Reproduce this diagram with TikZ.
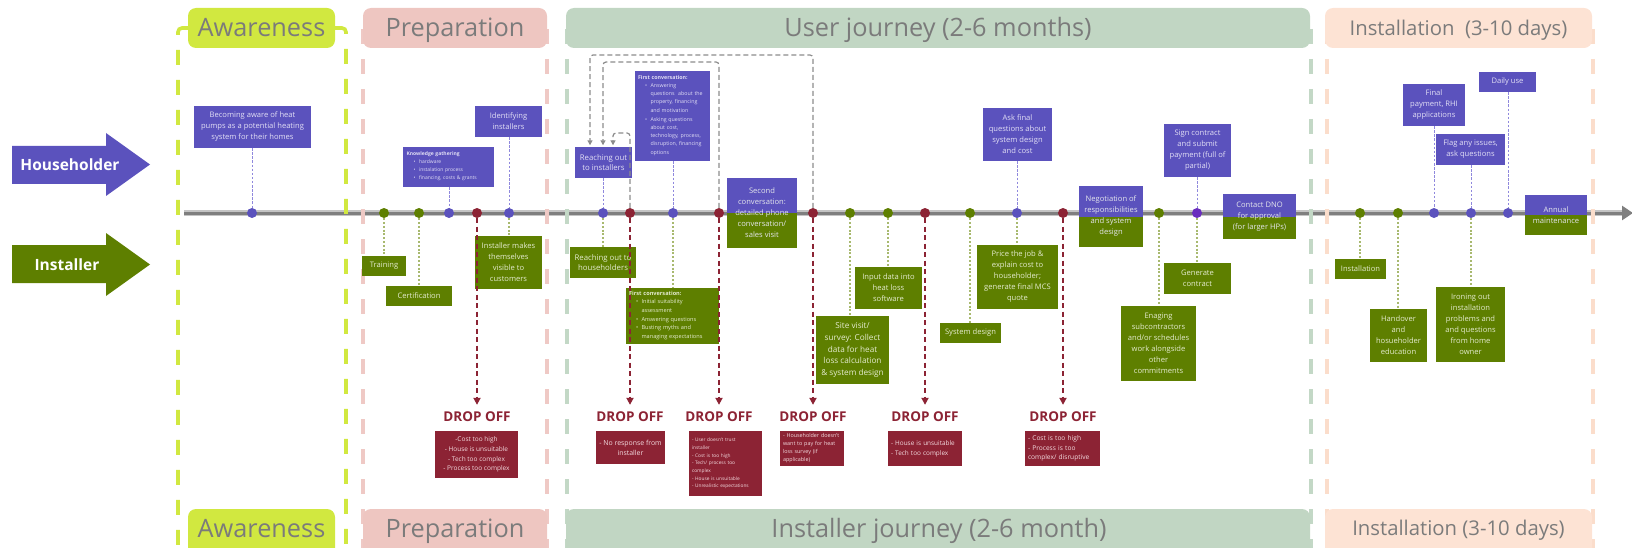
\documentclass[tikz,border=0pt]{standalone}
\usepackage{fontspec}
\setmainfont{Open Sans}
\usetikzlibrary{arrows.meta}
\pgfdeclarelayer{background}
\pgfdeclarelayer{foreground}
\pgfsetlayers{background,main,foreground}

% palette
\definecolor{hhc}{HTML}{5B52BD}
\definecolor{inc}{HTML}{5E7F00}
\definecolor{drc}{HTML}{8C2334}
\definecolor{vio}{HTML}{6A2DBE}
\definecolor{hhtxt}{HTML}{E2DFF5}
\definecolor{intxt}{HTML}{E4EBCF}
\definecolor{sptxt}{HTML}{E4E6EC}
\definecolor{drtxt}{HTML}{F2DADE}
\definecolor{hhline}{HTML}{8F88DD}
\definecolor{inline}{HTML}{A8B96F}
\definecolor{loopc}{HTML}{8C8C8C}
\definecolor{tl}{HTML}{7F7F7F}
\definecolor{tledge}{HTML}{C4C4C4}
\definecolor{awc}{HTML}{D1E840}
\definecolor{prc}{HTML}{EEC6C1}
\definecolor{ujc}{HTML}{C1D6C3}
\definecolor{insc}{HTML}{FDE3D4}
\definecolor{prl}{HTML}{EFC9C5}
\definecolor{ujl}{HTML}{C3D8C6}
\definecolor{insl}{HTML}{FBDDCB}
\definecolor{hdrc}{HTML}{7B7B7B}

\newcommand\fsz[2]{\fontsize{#1}{#2}\selectfont}
% bulleted item; the item's lines stay aligned after the bullet
\newcommand\bl[1]{\par\noindent\hspace*{7pt}\makebox[5.5pt][l]{•}\begin{tabular}[t]{@{}l@{}}#1\end{tabular}}

\tikzset{
  box/.style={inner sep=0pt, align=center, font=\fsz{7.6}{11}},
  hbox/.style={box, fill=hhc, text=hhtxt},
  ibox/.style={box, fill=inc, text=intxt},
  sbox/.style={box, fill=inc, text=sptxt,
    path picture={\fill[hhc] (path picture bounding box.north west) rectangle (path picture bounding box.east);}},
  dbox/.style={inner sep=0pt, fill=drc, text=drtxt, align=center, font=\fsz{6.5}{9.8}},
  lbox/.style={inner xsep=3pt, inner ysep=0pt, align=left},
  wh/.style 2 args={minimum width=#1, minimum height=#2},
  tdot/.style={circle, inner sep=0pt, minimum size=10pt, fill=#1},
  hline/.style={draw=hhline, line width=0.9pt, dash pattern=on 2.5pt off 1.6pt},
  iline/.style={draw=inline, line width=1.1pt, dash pattern=on 2pt off 1.8pt},
  dropline/.style={draw=drc, line width=1.8pt, dash pattern=on 5pt off 3.5pt,
    -{Triangle[length=7pt,width=7pt]}},
  loopline/.style={draw=loopc, line width=1.2pt, dash pattern=on 5pt off 3pt,
    rounded corners=3pt, -{Triangle[length=5pt,width=5pt]}, shorten >=1.5pt},
  droplbl/.style={inner sep=0pt, text=drc, font=\fsz{13.5}{15}\bfseries},
  phase/.style={line width=3.6pt, dash pattern=on 15pt off 15pt},
  hdrbox/.style={rounded corners=8pt, inner sep=0pt, minimum height=40pt},
  hdrtxt/.style={anchor=base, inner sep=0pt, text=hdrc, font=\fsz{25.3}{28}},
  lanetxt/.style={text=white, inner sep=0pt, font=\fsz{15.5}{18}\bfseries},
}

\begin{document}
\begin{tikzpicture}[x=1pt,y=-1pt]
\useasboundingbox (0,0) rectangle (1632,548);
\clip (0,0) rectangle (1632,548);

% ---------- phase headers (top)
\node[hdrbox, fill=awc, minimum width=147pt] (awTop) at (261.5,28) {};
\node[hdrtxt] (awTopT) at (261.5,37) {Awareness};
\node[hdrbox, fill=prc, minimum width=184pt] (prTop) at (455,28) {};
\node[hdrtxt] (prTopT) at (455,37) {Preparation};
\node[hdrbox, fill=ujc, minimum width=744pt] (ujTop) at (938,28) {};
\node[hdrtxt] (ujTopT) at (938,37) {User journey (2-6 months)};
\node[hdrbox, fill=insc, minimum width=267pt] (inTop) at (1458.5,28) {};
\node[hdrtxt, font=\fsz{20.3}{24}] (inTopT) at (1458.5,35.3) {Installation\ \ (3-10 days)};

% ---------- phase headers (bottom)
\node[hdrbox, fill=awc, minimum width=147pt, minimum height=50pt] (awBot) at (261.5,534) {};
\node[hdrtxt] (awBotT) at (261.5,537) {Awareness};
\node[hdrbox, fill=prc, minimum width=184pt, minimum height=50pt] (prBot) at (455,534) {};
\node[hdrtxt] (prBotT) at (455,537) {Preparation};
\node[hdrbox, fill=ujc, minimum width=744pt, minimum height=50pt] (ujBot) at (938,534) {};
\node[hdrtxt] (ujBotT) at (939,537) {Installer journey (2-6 month)};
\node[hdrbox, fill=insc, minimum width=267pt, minimum height=50pt] (inBot) at (1458.5,534) {};
\node[hdrtxt, font=\fsz{20.3}{24}] (inBotT) at (1458.5,535.5) {Installation (3-10 days)};

% ---------- lane arrows
\fill[hhc] (12,146) -- (106,146) -- (106,133) -- (150,164.5) -- (106,196) -- (106,184) -- (12,184) -- cycle;
\node[lanetxt] (hhLabel) at (70,165) {Householder};
\fill[inc] (12,245) -- (106,245) -- (106,233) -- (150,264.5) -- (106,296) -- (106,283) -- (12,283) -- cycle;
\node[lanetxt] (inLabel) at (67,264.5) {Installer};

% ---------- timeline end points
\coordinate (tlStart) at (184,213);
\coordinate (tlEdgeEnd) at (1622,213);
\coordinate (tlEnd) at (1633,213);

% ---------- householder / installer steps
\node[hbox, wh={117}{42}] (aware) at (252.5,127) {Becoming aware of heat\\pumps as a potential heating\\system for their homes};
\node[hbox, lbox, wh={91}{40}, text width=84pt, font=\fsz{5}{8}] (know) at (448.5,167)
  {\textbf{Knowledge gathering}\bl{hardware}\bl{instalation process}\bl{financing, costs \& grants}};
\node[hbox, wh={67}{31}] (ident) at (508.5,121.5) {Identifying\\installers};
\node[ibox, wh={44}{20}] (training) at (384,266) {Training};
\node[ibox, wh={66}{20}] (cert) at (419,296) {Certification};
\node[ibox, wh={67}{53}] (visible) at (508.5,262.5) {Installer makes\\themselves\\visible to\\customers};

\node[hbox, wh={57}{31}, font=\fsz{7.8}{10.7}] (reachI) at (603.5,162.5) {Reaching out\\to installers};
\node[ibox, wh={66}{31}, font=\fsz{7.8}{10.7}] (reachH) at (603,262.5) {Reaching out to\\householders};
\node[hbox, lbox, wh={75}{90}, text width=69pt, font=\fsz{5.3}{8.2}] (fcH) at (672.5,116)
  {\textbf{First conversation:}\bl{Answering\\questions\ \ about the\\property, financing\\and motivation}\bl{Asking questions\\about cost,\\technology, process,\\disruption, financing\\options}};
\node[ibox, lbox, wh={93}{56}, text width=87pt, font=\fsz{5.6}{8.3}] (fcI) at (672.5,316)
  {\textbf{First conversation:}\bl{Initial suitability\\assessment}\bl{Answering questions}\bl{Busting myths and\\managing expectations}};
\node[sbox, wh={70}{70}] (second) at (762,213) {Second\\conversation:\\detailed phone\\conversation/\\sales visit};
\node[ibox, wh={73}{68}, font=\fsz{8.2}{11.6}] (site) at (852.5,350) {Site visit/\\survey: Collect\\data for heat\\loss calculation\\\& system design};
\node[ibox, wh={67}{42}] (input) at (888.5,288) {Input data into\\heat loss\\software};
\node[ibox, wh={61}{20}] (sysdes) at (970.5,333) {System design};
\node[hbox, wh={69}{53}] (askfinal) at (1017.5,134.5) {Ask final\\questions about\\system design\\and cost};
\node[ibox, wh={81}{64}] (price) at (1017.5,277) {Price the job \&\\explain cost to\\householder;\\generate final MCS\\quote};
\node[sbox, wh={64}{61}] (negot) at (1111,216.5) {Negotiation of\\responsibilities\\and system\\design};
\node[ibox, wh={75}{75}] (enaging) at (1158.5,343.5) {Enaging\\subcontractors\\and/or schedules\\work alongside\\other\\commitments};
\node[hbox, wh={67}{53}] (sign) at (1197.5,150.5) {Sign contract\\and submit\\payment (full of\\partial)};
\node[ibox, wh={67}{31}] (gencon) at (1197.5,278.5) {Generate\\contract};
\node[sbox, wh={73}{45}] (dno) at (1259.5,216.5) {Contact DNO\\for approval\\(for larger HPs)};

\node[ibox, wh={51}{20}] (install) at (1360.5,269) {Installation};
\node[ibox, wh={57}{53}] (handover) at (1398.5,335.5) {Handover\\and\\hosueholder\\education};
\node[hbox, wh={62}{42}] (finalpay) at (1434,105) {Final\\payment, RHI\\applications};
\node[hbox, wh={69}{31}] (flag) at (1470.5,149.5) {Flag any issues,\\ask questions};
\node[ibox, wh={69}{75}] (ironing) at (1470.5,324.5) {Ironing out\\installation\\problems and\\and questions\\from home\\owner};
\node[hbox, wh={57}{20}] (daily) at (1507.5,82) {Daily use};
\node[sbox, wh={62}{40}] (annual) at (1556,215) {Annual\\maintenance};

% ---------- drop-off labels and reasons
\node[droplbl] (dl1) at (477,417) {DROP OFF};
\node[droplbl] (dl2) at (630,417) {DROP OFF};
\node[droplbl] (dl3) at (719,417) {DROP OFF};
\node[droplbl] (dl4) at (813,417) {DROP OFF};
\node[droplbl] (dl5) at (925,417) {DROP OFF};
\node[droplbl] (dl6) at (1063,417) {DROP OFF};
\node[dbox, wh={83}{47}] (db1) at (476.5,454.5) {-Cost too high\\- House is unsuitable\\- Tech too complex\\- Process too complex};
\node[dbox, wh={69}{33}, font=\fsz{6.9}{10}] (db2) at (630.5,447.5) {- No response from\\installer};
\node[dbox, lbox, wh={73}{65}, text width=67pt, font=\fsz{4.8}{7.7}] (db3) at (725.5,463.5)
  {- User doesn't trust\\installer\\- Cost is too high\\- Tech/ process too\\complex\\- House is unsuitable\\- Unrealistic expectations};
\node[dbox, lbox, wh={64}{35}, text width=58pt, font=\fsz{5.4}{8}] (db4) at (812,448.5)
  {- Householder doesn't\\want to pay for heat\\loss survey (if\\applicable)};
\node[dbox, lbox, wh={74}{35}, text width=68pt, font=\fsz{6.4}{10}] (db5) at (925,448.5)
  {- House is unsuitable\\- Tech too complex};
\node[dbox, lbox, wh={75}{35}, text width=69pt, font=\fsz{6.6}{9.5}] (db6) at (1062.5,448.5)
  {- Cost is too high\\- Process is too\\complex/ disruptive};

% ---------- timeline dots
\node[tdot=hhc] (p1) at (252,213) {};
\node[tdot=inc] (p2) at (384,213) {};
\node[tdot=inc] (p3) at (419,213) {};
\node[tdot=hhc] (p4) at (449,213) {};
\node[tdot=drc] (p5) at (477,213) {};
\node[tdot=hhc] (p6) at (509,213) {};
\node[tdot=hhc] (p7) at (603,213) {};
\node[tdot=drc] (p8) at (630,213) {};
\node[tdot=hhc] (p9) at (673,213) {};
\node[tdot=drc] (p10) at (719,213) {};
\node[tdot=drc] (p11) at (813,213) {};
\node[tdot=inc] (p12) at (850,213) {};
\node[tdot=inc] (p13) at (888,213) {};
\node[tdot=drc] (p14) at (925,213) {};
\node[tdot=inc] (p15) at (970,213) {};
\node[tdot=hhc] (p16) at (1017,213) {};
\node[tdot=drc] (p17) at (1063,213) {};
\node[tdot=inc] (p18) at (1159,213) {};
\node[tdot=vio] (p19) at (1197,213) {};
\node[tdot=inc] (p20) at (1360,213) {};
\node[tdot=inc] (p21) at (1398,213) {};
\node[tdot=hhc] (p22) at (1434,213) {};
\node[tdot=hhc] (p23) at (1471,213) {};
\node[tdot=hhc] (p24) at (1508,213) {};

\begin{pgfonlayer}{background}
  % timeline
  \draw[tledge, line width=5.5pt] (tlStart) -- (tlEdgeEnd);
  \draw[tl, line width=3pt, -{Triangle[length=11pt,width=14pt]}] (tlStart) -- (tlEnd);
  % phase borders
  \draw[phase, awc, rounded corners=4pt, dash phase=26pt] (192,28) -| (178,560);
  \draw[phase, awc, rounded corners=4pt, dash phase=26pt] (331,28) -| (346,560);
  \draw[phase, prl] (363,29) -- (363,560);
  \draw[phase, prl] (547,29) -- (547,560);
  \draw[phase, ujl] (567,29) -- (567,560);
  \draw[phase, ujl] (1311,29) -- (1311,560);
  \draw[phase, insl] (1327,29) -- (1327,560);
  \draw[phase, insl] (1593,29) -- (1593,560);
  % step connectors
  \draw[hline] (aware.south -| p1) -- (p1);
  \draw[iline] (p2) -- (training.north -| p2);
  \draw[iline] (p3) -- (cert.north -| p3);
  \draw[hline] (know.south -| p4) -- (p4);
  \draw[hline] (ident.south -| p6) -- (p6);
  \draw[iline] (p6) -- (visible.north -| p6);
  \draw[hline] (reachI.south -| p7) -- (p7);
  \draw[iline] (p7) -- (reachH.north -| p7);
  \draw[hline] (fcH.south -| p9) -- (p9);
  \draw[iline] (p9) -- (fcI.north -| p9);
  \draw[iline] (p12) -- (site.north -| p12);
  \draw[iline] (p13) -- (input.north -| p13);
  \draw[iline] (p15) -- (sysdes.north -| p15);
  \draw[hline] (askfinal.south -| p16) -- (p16);
  \draw[iline] (p16) -- (price.north -| p16);
  \draw[iline] (p18) -- (enaging.north -| p18);
  \draw[hline] (sign.south -| p19) -- (p19);
  \draw[iline] (p19) -- (gencon.north -| p19);
  \draw[iline] (p20) -- (install.north -| p20);
  \draw[iline] (p21) -- (handover.north -| p21);
  \draw[hline] (finalpay.south -| p22) -- (p22);
  \draw[hline] (flag.south -| p23) -- (p23);
  \draw[iline] (p23) -- (ironing.north -| p23);
  \draw[hline] (daily.south -| p24) -- (p24);
\end{pgfonlayer}

\begin{pgfonlayer}{foreground}
  % drop-off paths
  \draw[dropline] (p5.south) -- ([yshift=7pt]dl1.north);
  \draw[dropline] (p8.south) -- ([yshift=7pt]dl2.north);
  \draw[dropline] (p10.south) -- ([yshift=7pt]dl3.north);
  \draw[dropline] (p11.south) -- ([yshift=7pt]dl4.north);
  \draw[dropline] (p14.south) -- ([yshift=7pt]dl5.north);
  \draw[dropline] (p17.south) -- ([yshift=7pt]dl6.north);
  % loops back to reaching out
  \draw[loopline] (p11.north) |- (590,55) -- ([xshift=-13.5pt]reachI.north);
  \draw[loopline] (p10.north) |- (603,62) -- ([xshift=-0.5pt]reachI.north);
  \draw[loopline] (p8.north) |- (613,133) -- ([xshift=9.5pt]reachI.north);
\end{pgfonlayer}
\end{tikzpicture}
\end{document}
